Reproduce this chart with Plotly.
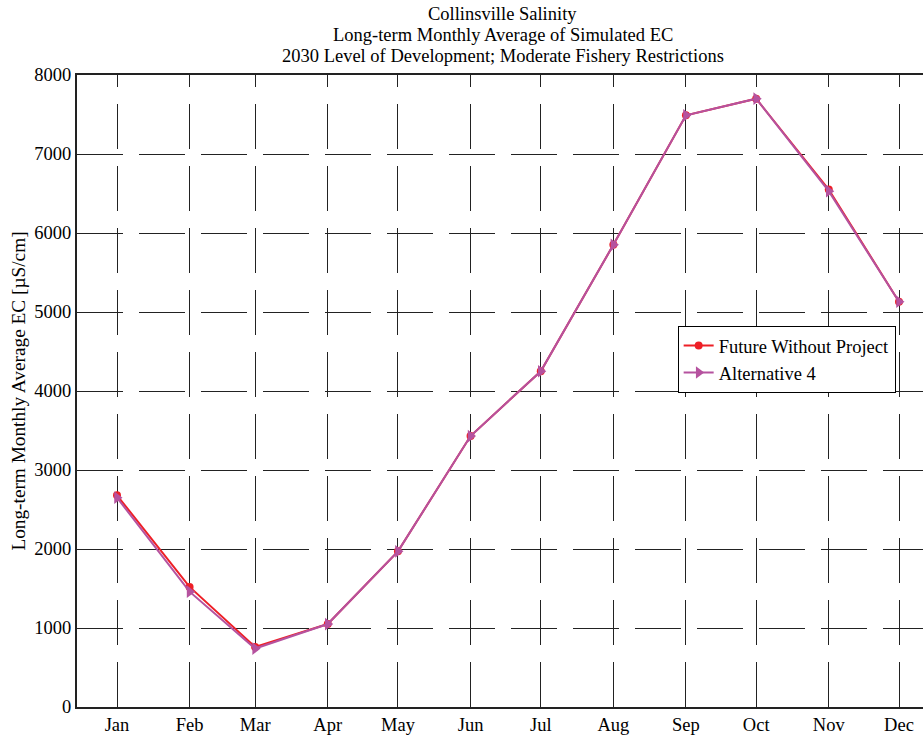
import plotly.graph_objects as go

months = ["Jan", "Feb", "Mar", "Apr", "May", "Jun", "Jul", "Aug", "Sep", "Oct", "Nov", "Dec"]
dates = ["2001-%02d-01" % m for m in range(1, 13)]
fwop = [2680, 1520, 760, 1050, 1970, 3430, 4250, 5850, 7490, 7700, 6550, 5130]
alt4 = [2650, 1460, 740, 1050, 1970, 3430, 4250, 5850, 7490, 7700, 6530, 5130]
title_lines = ["Collinsville Salinity",
               "Long-term Monthly Average of Simulated EC",
               "2030 Level of Development; Moderate Fishery Restrictions"]

serif = "Liberation Serif"

fig = go.Figure()
fig.add_trace(go.Scatter(x=dates, y=fwop, name="Future Without Project", mode="lines+markers",
                         line=dict(color="#ee1f26", width=2),
                         marker=dict(symbol="circle", size=8, color="#ee1f26")))
fig.add_trace(go.Scatter(x=dates, y=alt4, name="Alternative 4", mode="lines+markers",
                         line=dict(color="#b5529f", width=2),
                         marker=dict(symbol="triangle-right", size=11, color="#b5529f")))

# title as three separate lines (tighter spacing than plotly's title)
for i, txt in enumerate(title_lines):
    fig.add_annotation(text=txt, xref="paper", yref="paper", x=0.5035, y=1.0965 - i * 0.0332,
                       xanchor="center", yanchor="middle", showarrow=False,
                       font=dict(family=serif, size=18.5, color="black"))

# vertical grid dashes start at the bottom like the original
vdash = "12px,17px," + ",".join(["45px,17px"] * 10)

fig.update_layout(
    width=923, height=735,
    margin=dict(l=77, r=0, t=75, b=28),
    paper_bgcolor="white", plot_bgcolor="white",
    font=dict(family=serif, size=18.5, color="black"),
    legend=dict(x=0.71, y=0.603, xanchor="left", yanchor="top",
                bgcolor="white", bordercolor="black", borderwidth=1,
                font=dict(family=serif, size=18.5), tracegroupgap=0, itemwidth=30),
)
fig.update_xaxes(
    type="date", range=["2000-12-14 22:00", "2001-12-11 06:00"],
    tickvals=dates, ticktext=months,
    showgrid=True, gridcolor="#222", griddash=vdash, gridwidth=1,
    showline=True, linecolor="#222", linewidth=2, mirror=True,
    ticks="inside", ticklen=8, tickcolor="#222",
    zeroline=False, automargin=False,
)
fig.update_yaxes(
    range=[0, 8000], dtick=1000,
    showgrid=True, gridcolor="#222", griddash="46px,16px", gridwidth=1,
    showline=True, linecolor="#222", linewidth=2,
    ticks="inside", ticklen=8, tickcolor="#222",
    zeroline=False, automargin=False,
    title=dict(text="Long-term Monthly Average EC [µS/cm]", standoff=4,
               font=dict(family=serif, size=19.3)),
)

fig.write_html("out.html", config={"displayModeBar": False},
               post_script="document.body.style.margin='0';document.body.style.overflow='hidden';")
